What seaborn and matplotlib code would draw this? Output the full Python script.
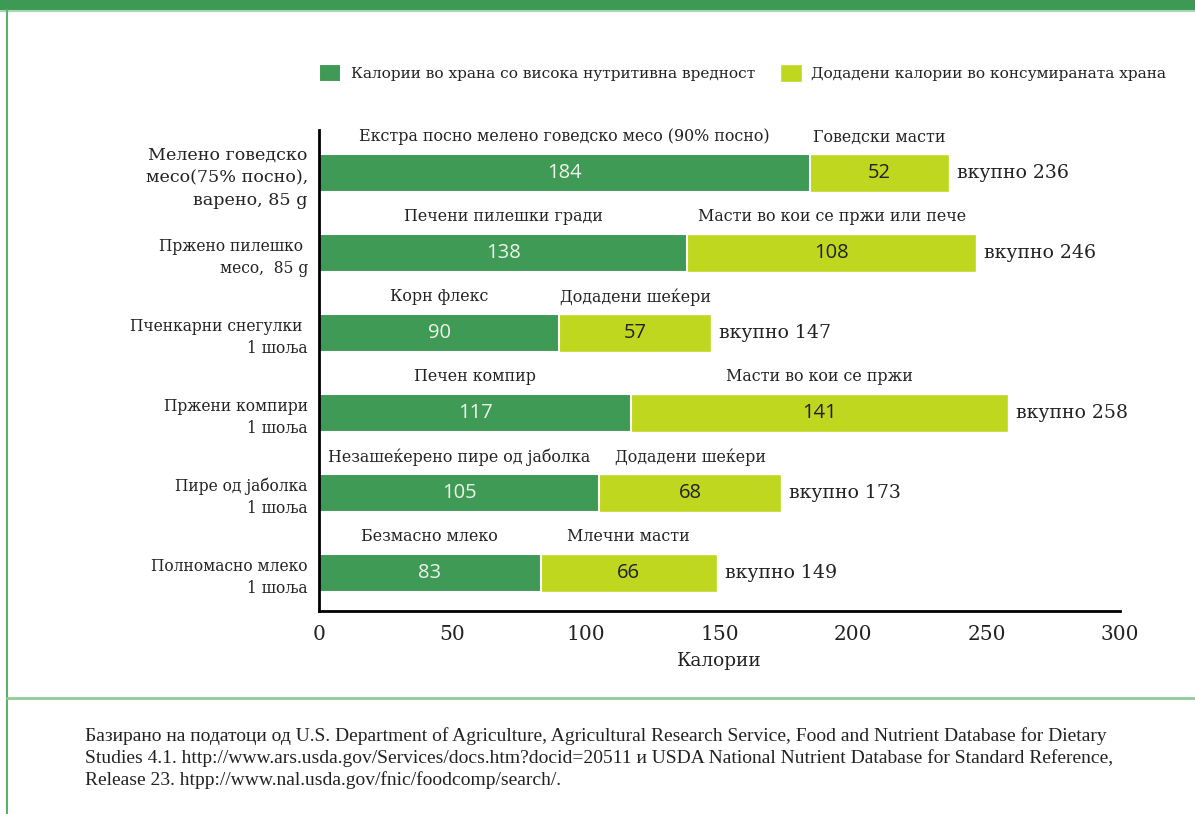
"""Калории во храна: нутритивни наспроти додадени (хоризонтални наредени столбови)."""

import matplotlib
import pandas as pd
import seaborn as sns

matplotlib.use("Agg")
import matplotlib.pyplot as plt  # noqa: E402
from matplotlib.lines import Line2D  # noqa: E402
from matplotlib.patches import Rectangle  # noqa: E402

sns.set_theme(style="white")
plt.rcParams["font.family"] = ["DejaVu Serif", "Liberation Serif"]

GREEN, LIME = "#3f9a55", "#bfd71f"
INK = "#222222"

foods = [
    "Мелено говедско\nмесо(75% посно),\nварено, 85 g",
    "Пржено пилешко \nмесо,  85 g",
    "Пченкарни снегулки \n1 шоља",
    "Пржени компири\n1 шоља",
    "Пире од јаболка\n1 шоља",
    "Полномасно млеко\n1 шоља",
]
nutritive = [184, 138, 90, 117, 105, 83]
added = [52, 108, 57, 141, 68, 66]
nutritive_names = [
    "Екстра посно мелено говедско месо (90% посно)",
    "Печени пилешки гради",
    "Корн флекс",
    "Печен компир",
    "Незашеќерено пире од јаболка",
    "Безмасно млеко",
]
added_names = [
    "Говедски масти",
    "Масти во кои се пржи или пече",
    "Додадени шеќери",
    "Масти во кои се пржи",
    "Додадени шеќери",
    "Млечни масти",
]
legend_labels = [
    "Калории во храна со висока нутритивна вредност",
    "Додадени калории во консумираната храна",
]
x_ticks = [0, 50, 100, 150, 200, 250, 300]
source = (
    "Базирано на податоци од U.S. Department of Agriculture, Agricultural Research Service, "
    "Food and Nutrient Database for Dietary\n"
    "Studies 4.1. http://www.ars.usda.gov/Services/docs.htm?docid=20511 и USDA National "
    "Nutrient Database for Standard Reference,\n"
    "Release 23. htpp://www.nal.usda.gov/fnic/foodcomp/search/."
)

df = pd.DataFrame({"food": foods, "nutritive": nutritive, "added": added})
df["total"] = df["nutritive"] + df["added"]

fig = plt.figure(figsize=(11.95, 8.14), dpi=100)
ax = fig.add_axes([0.2669, 0.2494, 0.6703, 0.5909])

bar_h = 0.475
sns.barplot(data=df, y="food", x="total", color=LIME, width=bar_h,
            saturation=1, edgecolor="white", linewidth=1,
            label=legend_labels[1], ax=ax)
sns.barplot(data=df, y="food", x="nutritive", color=GREEN, width=bar_h,
            saturation=1, edgecolor="white", linewidth=1.5,
            label=legend_labels[0], ax=ax)

ax.set_xlim(0, 300)
ax.set_ylim(5.475, -0.5375)
ax.set_xticks(x_ticks)
ax.set_xlabel("Калории", fontsize=13.3, labelpad=6, color=INK)
ax.set_ylabel("")

for lab in ax.get_yticklabels():
    lab.set_fontsize(11.2)
    lab.set_linespacing(1.35)
ax.get_yticklabels()[0].set_fontsize(12.6)
ax.get_yticklabels()[0].set_linespacing(1.45)
ax.tick_params(axis="y", length=0, pad=8, labelcolor=INK)
ax.tick_params(axis="x", direction="in", length=12, width=2, color="black",
               labelsize=14.5, pad=10, labelcolor=INK)

for side in ["top", "right"]:
    ax.spines[side].set_visible(False)
for side in ["left", "bottom"]:
    ax.spines[side].set_linewidth(2)
    ax.spines[side].set_color("black")

for i, row in df.iterrows():
    n, a, t = row["nutritive"], row["added"], row["total"]
    ax.text(n / 2, i, str(n), ha="center", va="center", fontsize=14.5,
            color="#eef3ea", family="Open Sans")
    ax.text(n + a / 2, i, str(a), ha="center", va="center", fontsize=14.5,
            color=INK, family="Open Sans")
    ax.text(n / 2, i - 0.45, nutritive_names[i], ha="center", va="center",
            fontsize=11.4, color=INK)
    ax.text(n + a / 2, i - 0.45, added_names[i], ha="center", va="center",
            fontsize=11.4, color=INK)
    ax.text(t + 3, i, f"вкупно {t}", ha="left", va="center", fontsize=13.6,
            color=INK)

handles, labels = ax.get_legend_handles_labels()
ax.legend(handles[::-1], labels[::-1], ncol=2, loc="center left",
          bbox_to_anchor=(319 / 1195, 1 - 73 / 814), bbox_transform=fig.transFigure,
          frameon=False, fontsize=11.1, handlelength=1.45, handleheight=1.45,
          handletextpad=0.6, columnspacing=1.6, borderpad=0, borderaxespad=0,
          labelcolor=INK)

# рамка: горна лента, лева линија и разделна линија над изворот
fig.add_artist(Rectangle((0, 1 - 10 / 814), 1, 10 / 814, transform=fig.transFigure,
                         color="#3d9a55", lw=0))
fig.add_artist(Line2D([0, 1], [1 - 11 / 814] * 2, transform=fig.transFigure,
                      color="#a9d7b0", lw=1.5))
fig.add_artist(Line2D([7 / 1195] * 2, [0, 1 - 10 / 814], transform=fig.transFigure,
                      color="#5cb06c", lw=1.5))
fig.add_artist(Line2D([7 / 1195, 1], [1 - 698 / 814] * 2, transform=fig.transFigure,
                      color="#8fcc98", lw=2))

fig.text(85 / 1195, 1 - 758 / 814, source, ha="left", va="center", fontsize=14,
         linespacing=1.32, color=INK, family="Liberation Serif")

fig.savefig("out.png", dpi=100)
